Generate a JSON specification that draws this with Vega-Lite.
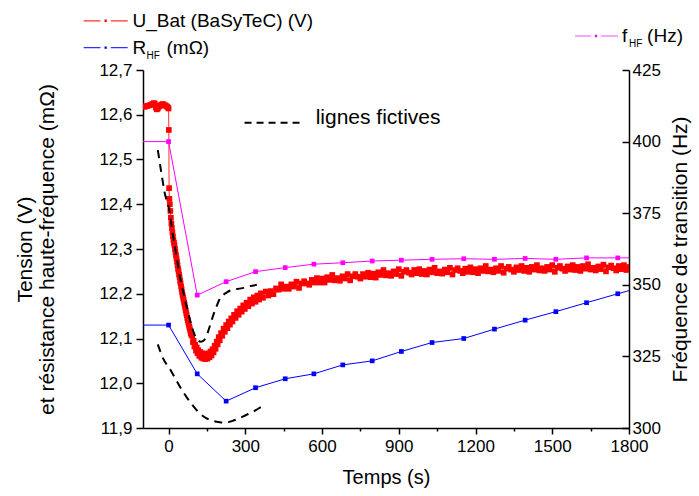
{
  "$schema": "https://vega.github.io/schema/vega-lite/v6.json",
  "width": 486,
  "height": 358,
  "autosize": {"type": "none"},
  "padding": {"left": 143, "top": 70, "right": 70, "bottom": 68},
  "background": "white",
  "config": {
    "view": {"stroke": null},
    "font": "Liberation Sans",
    "axis": {"grid": false, "domainColor": "black", "domainWidth": 1.5, "tickColor": "black", "tickWidth": 1.5, "labelColor": "black", "titleColor": "black", "labelFont": "Liberation Sans", "titleFont": "Liberation Sans", "labelFontSize": 17, "titleFontSize": 20, "titleFontWeight": "normal", "labelOverlap": false, "labelFlush": false}
  },
  "datasets": {
    "ubat": [
      {"t":-98,"v":12.618},{"t":-94,"v":12.618},{"t":-88,"v":12.619},{"t":-82,"v":12.620},{"t":-76,"v":12.621},{"t":-70,"v":12.622},{"t":-64,"v":12.624},{"t":-58,"v":12.626},{"t":-54,"v":12.625},{"t":-50,"v":12.616},{"t":-46,"v":12.612},{"t":-42,"v":12.614},{"t":-38,"v":12.618},{"t":-34,"v":12.620},{"t":-30,"v":12.622},{"t":-26,"v":12.623},{"t":-22,"v":12.624},{"t":-18,"v":12.622},{"t":-14,"v":12.621},{"t":-10,"v":12.620},{"t":-6,"v":12.618},{"t":-2,"v":12.616},
      {"t":0,"v":12.614},{"t":1,"v":12.566},{"t":2,"v":12.436},{"t":3,"v":12.412},{"t":5,"v":12.400},{"t":7,"v":12.385},{"t":9,"v":12.370},{"t":11,"v":12.357},{"t":13,"v":12.347},{"t":15,"v":12.337},{"t":17,"v":12.328},{"t":19,"v":12.320},{"t":21,"v":12.314},{"t":23,"v":12.308},{"t":25,"v":12.300},{"t":27,"v":12.293},{"t":29,"v":12.286},{"t":31,"v":12.279},{"t":33,"v":12.272},{"t":35,"v":12.264},{"t":37,"v":12.256},{"t":39,"v":12.250},{"t":41,"v":12.243},{"t":43,"v":12.237},{"t":45,"v":12.229},{"t":47,"v":12.223},{"t":49,"v":12.216},{"t":51,"v":12.210},{"t":53,"v":12.203},{"t":55,"v":12.197},{"t":57,"v":12.191},{"t":59,"v":12.186},{"t":61,"v":12.180},{"t":63,"v":12.175},{"t":65,"v":12.169},{"t":67,"v":12.163},{"t":69,"v":12.157},{"t":71,"v":12.152},{"t":73,"v":12.146},{"t":75,"v":12.141},{"t":77,"v":12.136},{"t":79,"v":12.131},{"t":81,"v":12.126},{"t":83,"v":12.122},{"t":85,"v":12.117},{"t":87,"v":12.112},{"t":89,"v":12.108},
      {"t":92,"v":12.106},{"t":95,"v":12.092},{"t":98,"v":12.095},{"t":101,"v":12.082},{"t":104,"v":12.086},{"t":107,"v":12.073},{"t":110,"v":12.080},{"t":113,"v":12.067},{"t":116,"v":12.074},{"t":120,"v":12.061},{"t":124,"v":12.070},{"t":128,"v":12.057},{"t":132,"v":12.067},{"t":136,"v":12.055},{"t":140,"v":12.066},{"t":144,"v":12.054},{"t":148,"v":12.065},{"t":152,"v":12.055},{"t":156,"v":12.067},{"t":160,"v":12.058},{"t":164,"v":12.071},{"t":168,"v":12.062},{"t":172,"v":12.076},{"t":176,"v":12.069},{"t":180,"v":12.084},{"t":184,"v":12.077},{"t":188,"v":12.093},{"t":192,"v":12.087},{"t":196,"v":12.103},{"t":200,"v":12.096},{"t":205,"v":12.112},{"t":210,"v":12.106},{"t":215,"v":12.122},{"t":220,"v":12.115},{"t":225,"v":12.130},{"t":230,"v":12.123},{"t":235,"v":12.138},{"t":240,"v":12.131},{"t":245,"v":12.145},{"t":250,"v":12.138},{"t":256,"v":12.153},{"t":262,"v":12.146},{"t":268,"v":12.161},{"t":274,"v":12.153},{"t":280,"v":12.167},{"t":286,"v":12.160},{"t":292,"v":12.174},{"t":298,"v":12.166},{"t":305,"v":12.180},{"t":312,"v":12.172},{"t":319,"v":12.187},{"t":326,"v":12.178},{"t":333,"v":12.192},{"t":340,"v":12.182},{"t":347,"v":12.196},{"t":354,"v":12.187},{"t":361,"v":12.201},{"t":369,"v":12.191},
      {"t":380,"v":12.205},{"t":390,"v":12.196},{"t":400,"v":12.206},{"t":410,"v":12.199},{"t":420,"v":12.212},{"t":430,"v":12.209},{"t":440,"v":12.221},{"t":450,"v":12.211},{"t":460,"v":12.216},{"t":470,"v":12.211},{"t":480,"v":12.221},{"t":490,"v":12.216},{"t":500,"v":12.227},{"t":510,"v":12.213},{"t":520,"v":12.223},{"t":530,"v":12.228},{"t":540,"v":12.223},{"t":550,"v":12.220},{"t":560,"v":12.231},{"t":570,"v":12.225},{"t":580,"v":12.235},{"t":590,"v":12.225},{"t":600,"v":12.234},{"t":610,"v":12.225},{"t":620,"v":12.237},{"t":630,"v":12.231},{"t":640,"v":12.242},{"t":650,"v":12.230},{"t":660,"v":12.235},{"t":670,"v":12.229},{"t":680,"v":12.239},{"t":690,"v":12.234},{"t":700,"v":12.244},{"t":710,"v":12.230},{"t":720,"v":12.239},{"t":730,"v":12.244},{"t":740,"v":12.238},{"t":750,"v":12.234},{"t":760,"v":12.244},{"t":770,"v":12.238},{"t":780,"v":12.247},{"t":790,"v":12.237},{"t":800,"v":12.245},{"t":810,"v":12.236},{"t":820,"v":12.248},{"t":830,"v":12.242},{"t":840,"v":12.253},{"t":850,"v":12.241},{"t":860,"v":12.246},{"t":870,"v":12.240},{"t":880,"v":12.250},{"t":890,"v":12.244},{"t":900,"v":12.255},{"t":910,"v":12.240},{"t":920,"v":12.249},{"t":930,"v":12.253},{"t":940,"v":12.247},{"t":950,"v":12.243},{"t":960,"v":12.253},{"t":970,"v":12.246},{"t":980,"v":12.255},{"t":990,"v":12.244},{"t":1000,"v":12.251},{"t":1010,"v":12.243},{"t":1020,"v":12.254},{"t":1030,"v":12.248},{"t":1040,"v":12.258},{"t":1050,"v":12.246},{"t":1060,"v":12.250},{"t":1070,"v":12.245},{"t":1080,"v":12.254},{"t":1090,"v":12.248},{"t":1100,"v":12.258},{"t":1110,"v":12.243},{"t":1120,"v":12.253},{"t":1130,"v":12.257},{"t":1140,"v":12.251},{"t":1150,"v":12.246},{"t":1160,"v":12.256},{"t":1170,"v":12.249},{"t":1180,"v":12.259},{"t":1190,"v":12.248},{"t":1200,"v":12.255},{"t":1210,"v":12.246},{"t":1220,"v":12.257},{"t":1230,"v":12.251},{"t":1240,"v":12.262},{"t":1250,"v":12.250},{"t":1260,"v":12.254},{"t":1270,"v":12.248},{"t":1280,"v":12.257},{"t":1290,"v":12.251},{"t":1300,"v":12.262},{"t":1310,"v":12.247},{"t":1320,"v":12.256},{"t":1330,"v":12.260},{"t":1340,"v":12.254},{"t":1350,"v":12.249},{"t":1360,"v":12.259},{"t":1370,"v":12.253},{"t":1380,"v":12.262},{"t":1390,"v":12.251},{"t":1400,"v":12.258},{"t":1410,"v":12.249},{"t":1420,"v":12.260},{"t":1430,"v":12.254},{"t":1440,"v":12.264},{"t":1450,"v":12.252},{"t":1460,"v":12.257},{"t":1470,"v":12.251},{"t":1480,"v":12.260},{"t":1490,"v":12.254},{"t":1500,"v":12.264},{"t":1510,"v":12.249},{"t":1520,"v":12.258},{"t":1530,"v":12.262},{"t":1540,"v":12.256},{"t":1550,"v":12.251},{"t":1560,"v":12.261},{"t":1570,"v":12.254},{"t":1580,"v":12.264},{"t":1590,"v":12.253},{"t":1600,"v":12.260},{"t":1610,"v":12.251},{"t":1620,"v":12.262},{"t":1630,"v":12.256},{"t":1640,"v":12.266},{"t":1650,"v":12.254},{"t":1660,"v":12.258},{"t":1670,"v":12.252},{"t":1680,"v":12.261},{"t":1690,"v":12.255},{"t":1700,"v":12.265},{"t":1710,"v":12.250},{"t":1720,"v":12.259},{"t":1730,"v":12.263},{"t":1740,"v":12.257},{"t":1750,"v":12.252},{"t":1760,"v":12.262},{"t":1770,"v":12.255},{"t":1780,"v":12.264},{"t":1790,"v":12.253},{"t":1800,"v":12.260}
    ],
    "rhf": [
      {"t":-150,"v":12.130},{"t":0,"v":12.130},{"t":112,"v":12.021},{"t":225,"v":11.960},{"t":340,"v":11.990},{"t":456,"v":12.010},{"t":568,"v":12.021},{"t":681,"v":12.041},{"t":796,"v":12.050},{"t":910,"v":12.071},{"t":1030,"v":12.091},{"t":1154,"v":12.100},{"t":1274,"v":12.121},{"t":1394,"v":12.141},{"t":1514,"v":12.160},{"t":1634,"v":12.180},{"t":1756,"v":12.200},{"t":1876,"v":12.219}
    ],
    "fhf": [
      {"t":-150,"f":400},{"t":0,"f":400},{"t":112,"f":346.4},{"t":225,"f":351.1},{"t":340,"f":354.6},{"t":456,"f":356.0},{"t":568,"f":357.2},{"t":681,"f":357.7},{"t":796,"f":358.3},{"t":910,"f":358.6},{"t":1030,"f":358.9},{"t":1154,"f":359.1},{"t":1274,"f":358.9},{"t":1394,"f":359.2},{"t":1514,"f":358.9},{"t":1634,"f":359.4},{"t":1756,"f":359.4},{"t":1876,"f":359.4}
    ],
    "dash": [
      {"curve":"a","t":-42,"v":12.521},{"curve":"a","t":-29,"v":12.473},{"curve":"a","t":-16,"v":12.428},{"curve":"a","t":4,"v":12.383},{"curve":"a","t":17,"v":12.331},{"curve":"a","t":30,"v":12.287},{"curve":"a","t":43,"v":12.242},{"curve":"a","t":63,"v":12.190},{"curve":"a","t":82,"v":12.145},{"curve":"a","t":102,"v":12.108},{"curve":"a","t":115,"v":12.095},{"curve":"a","t":128,"v":12.093},{"curve":"a","t":140,"v":12.097},{"curve":"a","t":147,"v":12.104},{"curve":"a","t":157,"v":12.120},{"curve":"a","t":167,"v":12.138},{"curve":"a","t":177,"v":12.156},{"curve":"a","t":187,"v":12.171},{"curve":"a","t":197,"v":12.185},{"curve":"a","t":206,"v":12.193},{"curve":"a","t":225,"v":12.202},{"curve":"a","t":245,"v":12.208},{"curve":"a","t":284,"v":12.212},{"curve":"a","t":310,"v":12.216},{"curve":"a","t":345,"v":12.220},
      {"curve":"b","t":-42,"v":12.087},{"curve":"b","t":-22,"v":12.056},{"curve":"b","t":4,"v":12.033},{"curve":"b","t":30,"v":12.007},{"curve":"b","t":50,"v":11.987},{"curve":"b","t":69,"v":11.970},{"curve":"b","t":95,"v":11.950},{"curve":"b","t":121,"v":11.933},{"curve":"b","t":147,"v":11.922},{"curve":"b","t":173,"v":11.916},{"curve":"b","t":200,"v":11.913},{"curve":"b","t":225,"v":11.912},{"curve":"b","t":250,"v":11.916},{"curve":"b","t":277,"v":11.922},{"curve":"b","t":303,"v":11.929},{"curve":"b","t":329,"v":11.936},{"curve":"b","t":350,"v":11.943},{"curve":"b","t":371,"v":11.950}
    ]
  },
  "resolve": {"scale": {"y": "independent"}},
  "layer": [
    {
      "layer": [
        {
          "data": {"name": "ubat"},
          "mark": {"type": "line", "color": "#ff3030", "strokeWidth": 1, "clip": true},
          "encoding": {
            "x": {"field": "t", "type": "quantitative", "scale": {"domain": [-100, 1800], "nice": false, "zero": false},
              "axis": {"values": [0,150,300,450,600,750,900,1050,1200,1350,1500,1650,1800], "labelExpr": "datum.value % 300 === 0 ? format(datum.value, 'd') : ''", "tickSize": {"condition": {"test": "datum.value % 300 !== 0", "value": 3}, "value": 6}, "labelPadding": 4, "title": "Temps (s)", "titlePadding": 13}},
            "y": {"field": "v", "type": "quantitative", "scale": {"domain": [11.9, 12.7], "nice": false, "zero": false},
              "axis": {"values": [11.9,11.95,12.0,12.05,12.1,12.15,12.2,12.25,12.3,12.35,12.4,12.45,12.5,12.55,12.6,12.65,12.7], "labelExpr": "round(datum.value*100) % 10 === 0 ? replace(format(datum.value, '.1f'), '.', ',') : ''", "tickSize": {"condition": {"test": "round(datum.value*100) % 10 !== 0", "value": 4}, "value": 7}, "labelPadding": 4, "title": ["Tension (V)", "et résistance haute-fréquence (mΩ)"], "titleFontSize": 21, "titleLineHeight": 22, "titlePadding": 41}}
          }
        },
        {
          "data": {"name": "ubat"},
          "mark": {"type": "square", "color": "#ff0000", "opacity": 1, "size": 32, "clip": true},
          "encoding": {"x": {"field": "t", "type": "quantitative"}, "y": {"field": "v", "type": "quantitative"}}
        },
        {
          "data": {"name": "rhf"},
          "mark": {"type": "line", "color": "#0000ff", "strokeWidth": 1, "clip": true},
          "encoding": {"x": {"field": "t", "type": "quantitative"}, "y": {"field": "v", "type": "quantitative"}}
        },
        {
          "data": {"name": "rhf"},
          "transform": [{"filter": "datum.t >= -100 && datum.t <= 1800"}],
          "mark": {"type": "square", "color": "#0000ff", "opacity": 1, "size": 22, "clip": true},
          "encoding": {"x": {"field": "t", "type": "quantitative"}, "y": {"field": "v", "type": "quantitative"}}
        },
        {
          "data": {"name": "dash"},
          "mark": {"type": "line", "color": "black", "strokeWidth": 2, "strokeDash": [8, 6], "interpolate": "monotone", "clip": true},
          "encoding": {"x": {"field": "t", "type": "quantitative"}, "y": {"field": "v", "type": "quantitative"}, "detail": {"field": "curve"}}
        },
        {
          "data": {"values": [{}]},
          "mark": {"type": "rule", "color": "black", "strokeWidth": 2, "strokeDash": [7, 5]},
          "encoding": {"x": {"datum": 297}, "x2": {"datum": 520}, "y": {"datum": 12.582}}
        },
        {
          "data": {"values": [{}]},
          "mark": {"type": "text", "text": "lignes fictives", "fontSize": 21, "align": "left", "baseline": "middle", "color": "black"},
          "encoding": {"x": {"datum": 575}, "y": {"datum": 12.593}}
        },
        {
          "data": {"values": [{}]},
          "mark": {"type": "rule", "color": "#ff3030", "strokeWidth": 1.2},
          "encoding": {"x": {"datum": -332}, "x2": {"datum": -160}, "y": {"datum": 12.810}}
        },
        {
          "data": {"values": [{}]},
          "mark": {"type": "square", "fill": "#ff0000", "fillOpacity": 1, "stroke": "white", "strokeWidth": 4, "size": 40},
          "encoding": {"x": {"datum": -246}, "y": {"datum": 12.810}}
        },
        {
          "data": {"values": [{}]},
          "mark": {"type": "text", "text": "U_Bat (BaSyTeC) (V)", "fontSize": 19, "align": "left", "baseline": "middle", "color": "black"},
          "encoding": {"x": {"datum": -141}, "y": {"datum": 12.810}}
        },
        {
          "data": {"values": [{}]},
          "mark": {"type": "rule", "color": "#3030ff", "strokeWidth": 1.2},
          "encoding": {"x": {"datum": -332}, "x2": {"datum": -160}, "y": {"datum": 12.750}}
        },
        {
          "data": {"values": [{}]},
          "mark": {"type": "square", "fill": "#0000ff", "fillOpacity": 1, "stroke": "white", "strokeWidth": 4, "size": 40},
          "encoding": {"x": {"datum": -246}, "y": {"datum": 12.750}}
        },
        {
          "data": {"values": [{}]},
          "mark": {"type": "text", "text": "R", "fontSize": 19, "align": "left", "baseline": "middle", "color": "black"},
          "encoding": {"x": {"datum": -141}, "y": {"datum": 12.750}}
        },
        {
          "data": {"values": [{}]},
          "mark": {"type": "text", "text": "HF", "fontSize": 10, "align": "left", "baseline": "middle", "color": "black", "dx": 14, "dy": 8},
          "encoding": {"x": {"datum": -141}, "y": {"datum": 12.750}}
        },
        {
          "data": {"values": [{}]},
          "mark": {"type": "text", "text": "(mΩ)", "fontSize": 19, "align": "left", "baseline": "middle", "color": "black", "dx": 34},
          "encoding": {"x": {"datum": -141}, "y": {"datum": 12.750}}
        },
        {
          "data": {"values": [{}]},
          "mark": {"type": "rule", "color": "#ff40ff", "strokeWidth": 1.2},
          "encoding": {"x": {"datum": 1589}, "x2": {"datum": 1757}, "y": {"datum": 12.776}}
        },
        {
          "data": {"values": [{}]},
          "mark": {"type": "square", "fill": "#ff00ff", "fillOpacity": 1, "stroke": "white", "strokeWidth": 4, "size": 40},
          "encoding": {"x": {"datum": 1671}, "y": {"datum": 12.776}}
        },
        {
          "data": {"values": [{}]},
          "mark": {"type": "text", "text": "f", "fontSize": 19, "align": "left", "baseline": "middle", "color": "black"},
          "encoding": {"x": {"datum": 1773}, "y": {"datum": 12.776}}
        },
        {
          "data": {"values": [{}]},
          "mark": {"type": "text", "text": "HF", "fontSize": 10, "align": "left", "baseline": "middle", "color": "black", "dx": 7, "dy": 8},
          "encoding": {"x": {"datum": 1773}, "y": {"datum": 12.776}}
        },
        {
          "data": {"values": [{}]},
          "mark": {"type": "text", "text": "(Hz)", "fontSize": 19, "align": "left", "baseline": "middle", "color": "black", "dx": 25},
          "encoding": {"x": {"datum": 1773}, "y": {"datum": 12.776}}
        }
      ]
    },
    {
      "layer": [
        {
          "data": {"name": "fhf"},
          "mark": {"type": "line", "color": "#ff00ff", "strokeWidth": 1, "clip": true},
          "encoding": {
            "x": {"field": "t", "type": "quantitative"},
            "y": {"field": "f", "type": "quantitative", "scale": {"domain": [300, 425], "nice": false, "zero": false},
              "axis": {"orient": "right", "values": [300,312.5,325,337.5,350,362.5,375,387.5,400,412.5,425], "labelExpr": "datum.value % 25 === 0 ? format(datum.value, 'd') : ''", "tickSize": {"condition": {"test": "datum.value % 25 !== 0", "value": -4}, "value": -7}, "labelPadding": 10, "title": "Fréquence de transition (Hz)", "titleFontSize": 21, "titleAngle": 270, "titleBaseline": "top", "titlePadding": 9}}
          }
        },
        {
          "data": {"name": "fhf"},
          "transform": [{"filter": "datum.t >= -100 && datum.t <= 1800"}],
          "mark": {"type": "square", "color": "#ff00ff", "opacity": 1, "size": 22, "clip": true},
          "encoding": {"x": {"field": "t", "type": "quantitative"}, "y": {"field": "f", "type": "quantitative"}}
        }
      ]
    }
  ]
}
